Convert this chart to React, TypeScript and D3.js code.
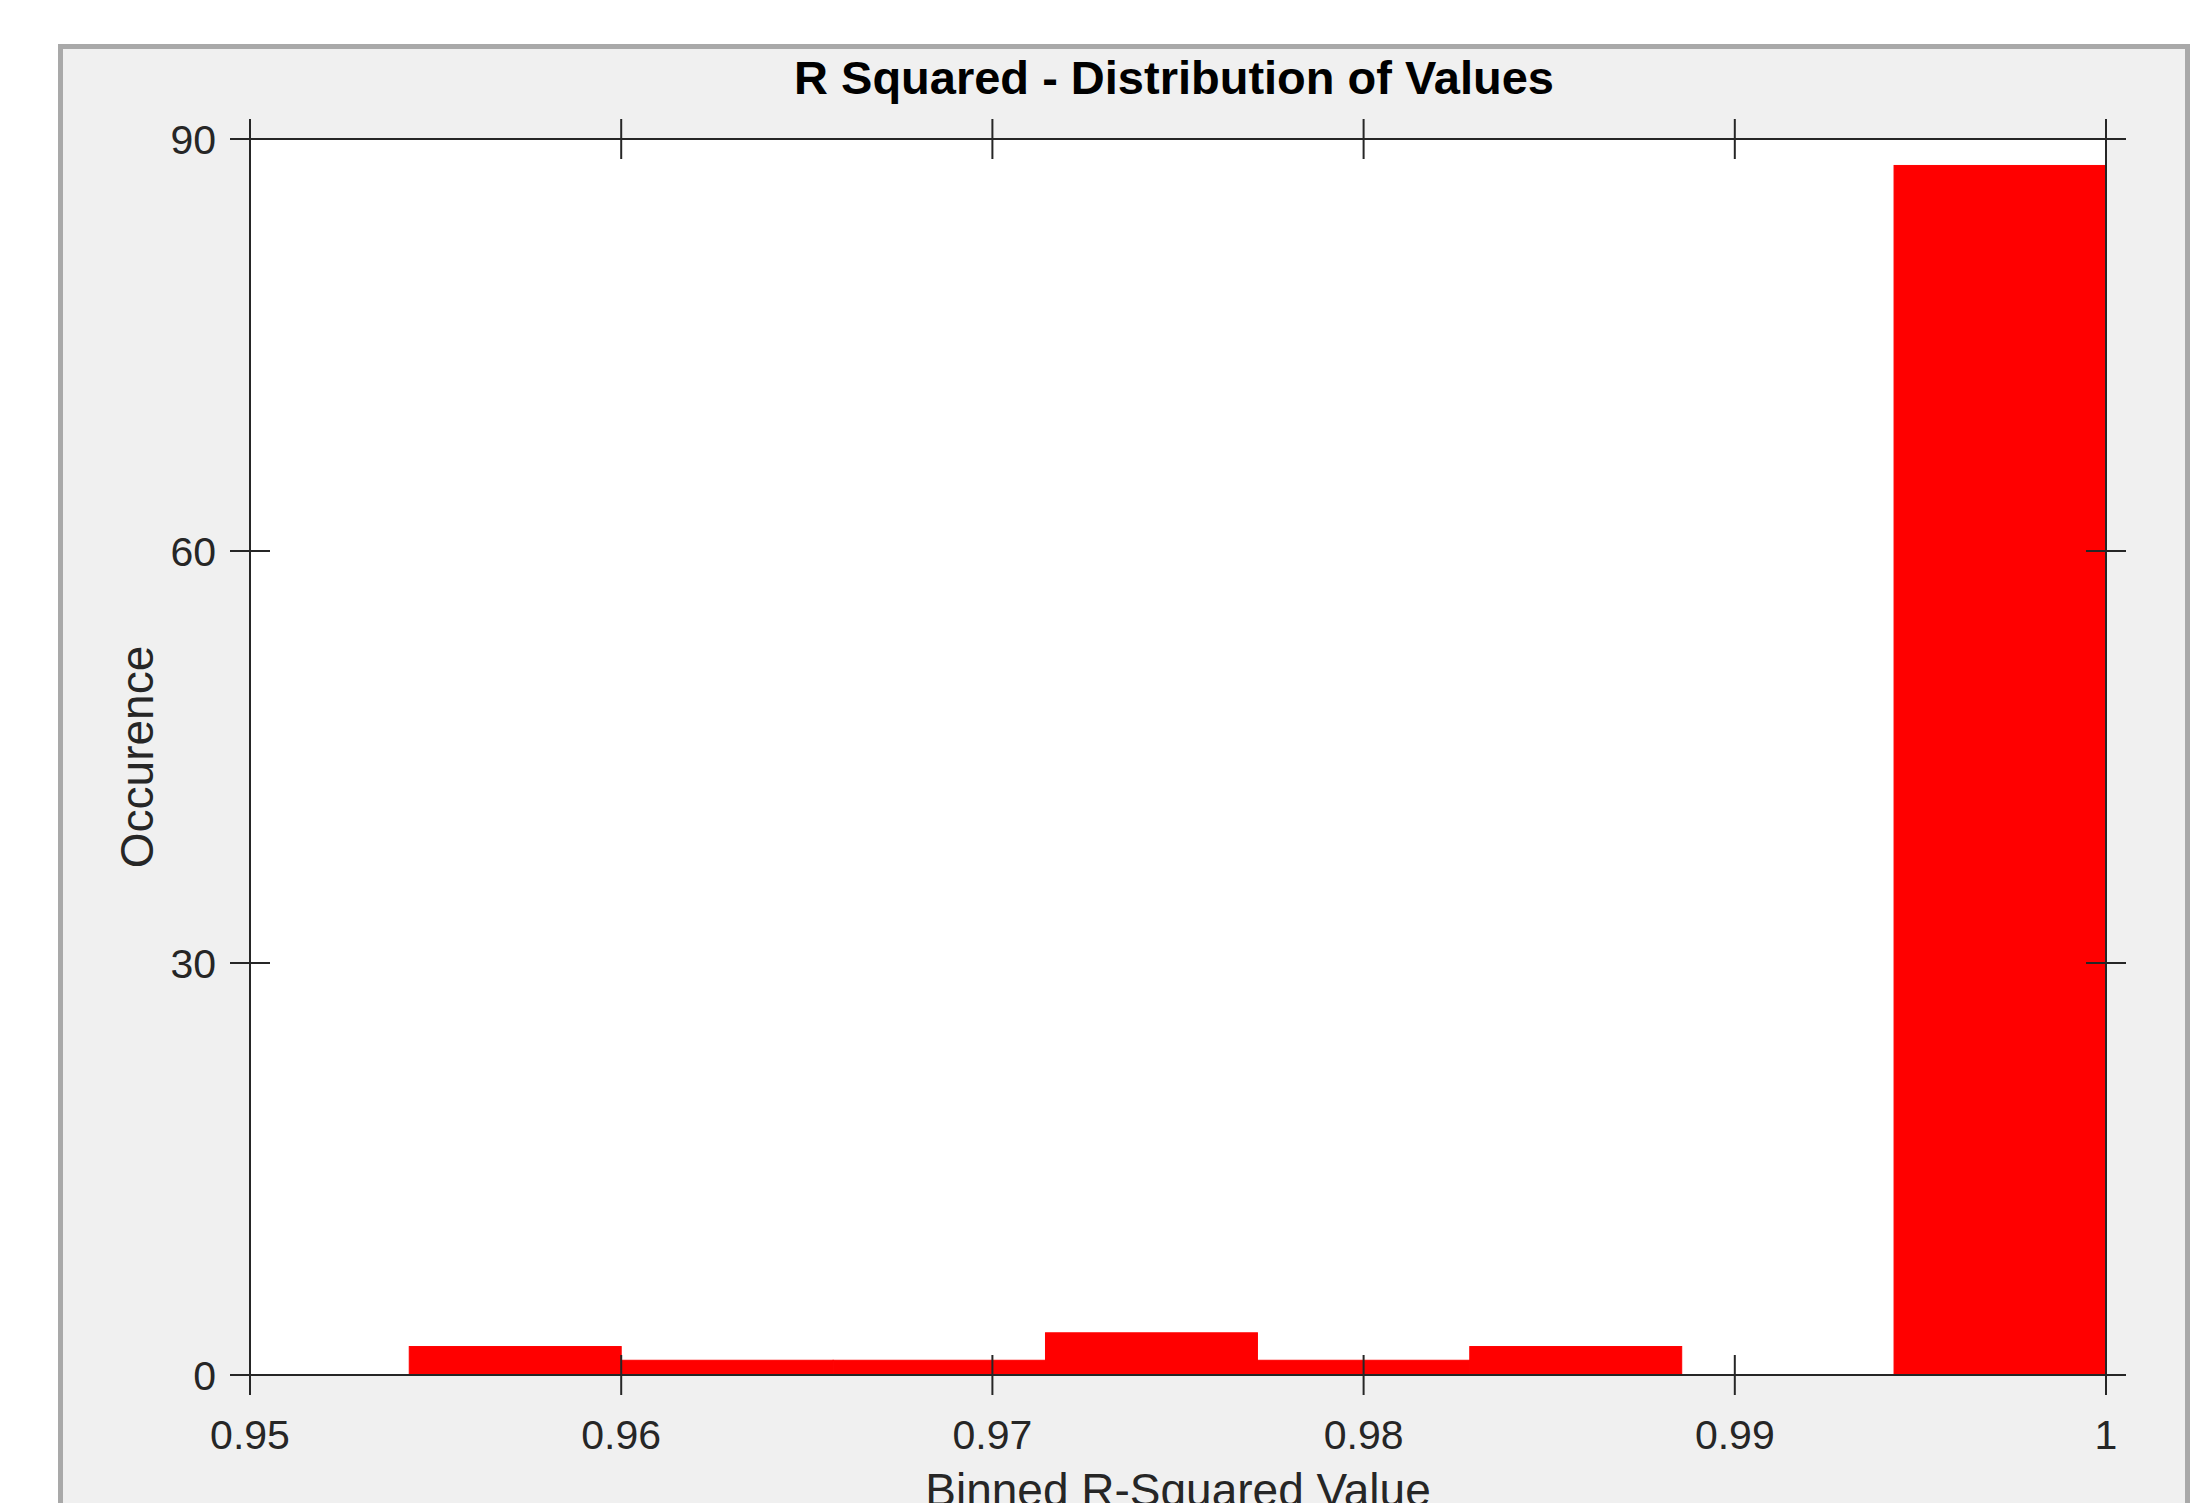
import React from 'react'
import * as d3 from 'd3'

// histogram bins
const binEdges = [0.95429, 0.96, 0.96571, 0.97143, 0.97714, 0.98286, 0.98857, 0.99429, 1.0]
const counts = [2, 1, 1, 3, 1, 2, 0, 88]
const xTicks = [0.95, 0.96, 0.97, 0.98, 0.99, 1]
const yTicks = [0, 30, 60, 90]

const title = 'R Squared - Distribution of Values'
const xLabel = 'Binned R-Squared Value'
const yLabel = 'Occurence'

const App = () => {
    const width = 2200
    const height = 1503
    const margin = { top: 139, right: 94, bottom: 128, left: 250 }
    const x0 = margin.left
    const x1 = width - margin.right
    const y0 = margin.top
    const y1 = height - margin.bottom

    const xScale = d3.scaleLinear().domain([0.95, 1]).range([x0, x1])
    const yScale = d3.scaleLinear().domain([0, 90]).range([y1, y0])

    const ink = '#262626'
    const font = '"Liberation Sans", Arial, Helvetica, sans-serif'
    const tick = 20

    const bins = counts.map((c, i) => ({ lo: binEdges[i], hi: binEdges[i + 1], c }))

    return (
        <svg
            width={width}
            height={height}
            style={{ position: 'absolute', left: 0, top: 0, display: 'block' }}
            fontFamily={font}
        >
            <rect x={0} y={0} width={width} height={height} fill="#ffffff" />
            {/* figure panel */}
            <rect x={60.5} y={46.5} width={2127} height={1500} fill="#f0f0f0" stroke="#a9a9a9" strokeWidth={5} />
            {/* axes background */}
            <rect x={x0} y={y0} width={x1 - x0} height={y1 - y0} fill="#ffffff" />

            {/* bars */}
            {bins.map((b, i) => (
                <rect
                    key={i}
                    x={xScale(b.lo)}
                    y={yScale(b.c) - 1}
                    width={xScale(b.hi) - xScale(b.lo)}
                    height={Math.max(0, yScale(0) - yScale(b.c))}
                    fill="#ff0000"
                    stroke="#ff0000"
                    strokeWidth={1}
                />
            ))}

            {/* axes box */}
            <g stroke={ink} strokeWidth={2} fill="none">
                <line x1={x0} y1={y0} x2={x1} y2={y0} />
                <line x1={x0} y1={y1} x2={x1} y2={y1} />
                <line x1={x0} y1={y0} x2={x0} y2={y1} />
                <line x1={x1} y1={y0} x2={x1} y2={y1} />
                {xTicks.map((t) => (
                    <g key={'xt' + t}>
                        <line x1={xScale(t)} y1={y1 - tick} x2={xScale(t)} y2={y1 + tick} />
                        <line x1={xScale(t)} y1={y0 - tick} x2={xScale(t)} y2={y0 + tick} />
                    </g>
                ))}
                {yTicks.map((t) => (
                    <g key={'yt' + t}>
                        <line x1={x0 - tick} y1={yScale(t)} x2={x0 + tick} y2={yScale(t)} />
                        <line x1={x1 - tick} y1={yScale(t)} x2={x1 + tick} y2={yScale(t)} />
                    </g>
                ))}
            </g>

            {/* tick labels */}
            <g fill={ink} fontSize={41}>
                {xTicks.map((t) => (
                    <text key={'xl' + t} x={xScale(t)} y={y1 + 74} textAnchor="middle">
                        {d3.format('~g')(t)}
                    </text>
                ))}
                {yTicks.map((t) => (
                    <text key={'yl' + t} x={x0 - 34} y={yScale(t) + 15} textAnchor="end">
                        {t}
                    </text>
                ))}
            </g>

            {/* labels */}
            <text x={1174} y={94} textAnchor="middle" fontSize={47} fontWeight="bold" fill="#000000">
                {title}
            </text>
            <text x={(x0 + x1) / 2} y={1506} textAnchor="middle" fontSize={46} fill={ink}>
                {xLabel}
            </text>
            <text
                transform={`translate(153,${(y0 + y1) / 2}) rotate(-90)`}
                textAnchor="middle"
                fontSize={46}
                fill={ink}
            >
                {yLabel}
            </text>
        </svg>
    )
}

export default App
